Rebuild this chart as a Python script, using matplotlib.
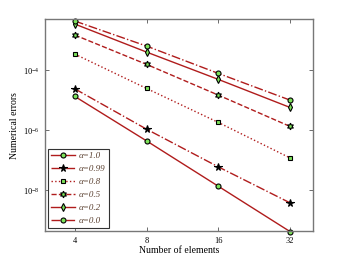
import matplotlib

matplotlib.use("Agg")

import matplotlib.pyplot as plt
from matplotlib.ticker import FixedLocator, NullLocator

plt.rcParams["font.family"] = ["Liberation Serif", "DejaVu Serif"]
plt.rcParams["mathtext.fontset"] = "custom"
plt.rcParams["mathtext.rm"] = "Liberation Serif"
plt.rcParams["mathtext.it"] = "Liberation Serif:italic"

n_elements = [4, 8, 16, 32]

err_a10 = [1.33e-5, 4.4e-7, 1.36e-8, 4.2e-10]
err_a099 = [2.38e-5, 1.08e-6, 6.0e-8, 3.8e-9]
err_a08 = [3.41e-4, 2.45e-5, 1.81e-6, 1.19e-7]
err_a05 = [1.47e-3, 1.55e-4, 1.47e-5, 1.33e-6]
err_a02 = [3.41e-3, 3.98e-4, 4.9e-5, 5.7e-6]
err_a00 = [4.3e-3, 6.3e-4, 7.76e-5, 1.0e-5]

labels = ["α=1.0", "α=0.99", "α=0.8", "α=0.5", "α=0.2", "α=0.0"]

line_color = "#b01c1c"
fill_color = "#7de35a"
hexagram = (6, 1, 0)

# (values, linestyle, marker, face colour, marker size)
series = [
    (err_a10, "-", "o", fill_color, 3.6),
    (err_a099, "-.", "*", "black", 5.5),
    (err_a08, ":", "s", fill_color, 3.3),
    (err_a05, "--", hexagram, fill_color, 4.8),
    (err_a02, "-", "d", fill_color, 3.8),
    (err_a00, "-.", "o", fill_color, 3.6),
]

fig = plt.figure(figsize=(3.46, 2.61), dpi=100)
ax = fig.add_axes([0.130, 0.115, 0.775, 0.811])

for (vals, ls, mk, fc, ms), lab in zip(series, labels):
    ax.plot(
        n_elements,
        vals,
        linestyle=ls,
        color=line_color,
        linewidth=1.0,
        marker=mk,
        markersize=ms,
        markerfacecolor=fc,
        markeredgecolor="black",
        markeredgewidth=0.8,
        label=lab,
        clip_on=False,
    )

ax.set_xscale("log")
ax.set_yscale("log")
ax.set_xlim(3, 40)
ax.set_ylim(10 ** -9.357, 10 ** -2.31)

ax.xaxis.set_major_locator(FixedLocator(n_elements))
ax.xaxis.set_minor_locator(NullLocator())
ax.set_xticklabels([str(n) for n in n_elements])
ax.yaxis.set_major_locator(FixedLocator([1e-8, 1e-6, 1e-4]))
ax.yaxis.set_minor_locator(NullLocator())

ax.tick_params(which="both", direction="in", top=True, right=True,
               length=3, width=0.6, color="#555555", labelsize=6, pad=4)

for sp in ax.spines.values():
    sp.set_color("#777777")
    sp.set_linewidth(1.0)

ax.set_xlabel("Number of elements", fontsize=7, labelpad=1)
ax.set_ylabel("Numerical errors", fontsize=7, labelpad=3)

leg = ax.legend(
    loc="lower left",
    fontsize=6.5,
    handlelength=2.6,
    handletextpad=0.4,
    labelspacing=0.5,
    borderpad=0.4,
    borderaxespad=0.3,
    fancybox=False,
    edgecolor="#333333",
    framealpha=1.0,
)
leg.get_frame().set_linewidth(0.8)
for t in leg.get_texts():
    t.set_fontstyle("italic")
    t.set_color("#5a4030")

fig.savefig("out.png", dpi=100)
